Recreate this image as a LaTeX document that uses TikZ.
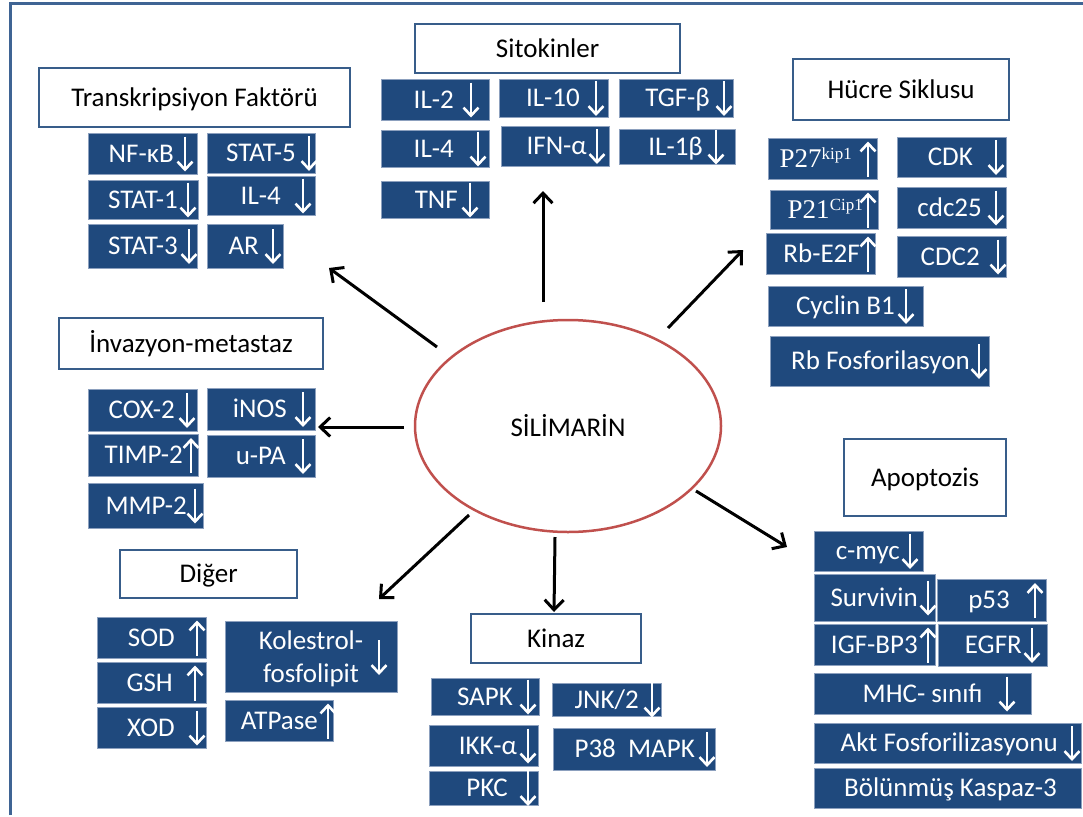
\documentclass[tikz,border=0pt]{standalone}
\usepackage{fontspec}
\setmainfont{Carlito}
\newfontfamily\tnr{Liberation Serif}
\usetikzlibrary{arrows.meta,shapes.geometric}
\definecolor{boxblue}{RGB}{31,73,125}
\definecolor{hdrblue}{RGB}{56,93,138}
\definecolor{frameblue}{RGB}{63,100,148}
\definecolor{ellred}{RGB}{192,80,77}
\definecolor{bedge}{RGB}{140,160,190}
\tikzset{
  hdr/.style={draw=hdrblue, line width=2.2pt, fill=white, rectangle, inner sep=0pt, anchor=north west, text height=18pt, text depth=0.5pt, font=\fontsize{27}{32}\selectfont},
  bbox/.style={fill=boxblue, draw=bedge, line width=0.7pt, rectangle, inner sep=0pt},
  btxt/.style={text=white, inner sep=0pt, font=\fontsize{27}{32}\selectfont},
  warr/.style={draw=white, line width=2.6pt, -{Straight Barb[length=8pt,width=15pt]}},
  conn/.style={draw=black, line width=3pt, -{Straight Barb[length=10pt,width=19pt]}},
  framel/.style={draw=frameblue, line width=3pt},
}
\newcommand\hd[6]{\node[hdr, minimum width={#4-#2}, minimum height={#5-#3}] (#1) at (#2,#3) {#6};}
\newcommand\bx[9]{%
  \node[bbox, minimum width={#4-#2}, minimum height={#5-#3}, anchor=north west] (#1) at (#2,#3) {};
  \node[btxt, anchor=base east] (#1-t) at (#7,{(#3+#5)/2+8.5}) {#6};
  \ifx u#9 \draw[warr] (#8,{(#3+#5)/2+18}) -- (#8,{(#3+#5)/2-17});\fi
  \ifx d#9 \draw[warr] (#8,{(#3+#5)/2-17}) -- (#8,{(#3+#5)/2+18});\fi
}
\newcommand\sups[1]{\raisebox{8pt}{\fontsize{17}{17}\selectfont #1}}
\begin{document}
\begin{tikzpicture}[x=1pt,y=-1pt]
\useasboundingbox (0,0) rectangle (1083,816);
\fill[white] (0,0) rectangle (1083,816);
\draw[framel] (10.5,815) -- (10.5,4) -- (1083,4);

% headers
\hd{tf}{38}{67}{349}{126}{Transkripsiyon Faktörü}
\hd{sito}{414}{23}{679}{72}{Sitokinler}
\hd{hucre}{792}{58}{1008}{119}{Hücre Siklusu}
\hd{inv}{58}{317}{322}{368}{İnvazyon-metastaz}
\hd{apo}{843}{438}{1005}{515}{Apoptozis}
\hd{diger}{119}{549}{296}{597}{Diğer}
\hd{kinaz}{470}{613}{640}{662}{Kinaz}

% Transkripsiyon
\bx{nfkb}{88}{133}{197}{174}{NF-κB}{174}{185}{d}
\bx{stat5}{207}{133}{315}{173}{STAT-5}{296}{309}{d}
\bx{stat1}{88}{180}{198}{219}{STAT-1}{178}{188}{d}
\bx{il4a}{207}{176}{315}{215}{IL-4}{281}{303}{d}
\bx{stat3}{88}{224}{197}{268}{STAT-3}{178}{189}{d}
\bx{ar}{207}{224}{283}{268}{AR}{259}{273}{d}

% Sitokinler
\bx{il2}{381}{79}{489}{120}{IL-2}{454}{471}{d}
\bx{il10}{499}{79}{608}{117}{IL-10}{580}{596}{d}
\bx{tgfb}{619}{79}{733}{117}{TGF-β}{710}{724}{d}
\bx{il4b}{381}{130}{489}{167}{IL-4}{454}{478}{d}
\bx{ifna}{501}{126}{609}{166}{IFN-α}{587}{597}{d}
\bx{il1b}{619}{129}{735}{164}{IL-1β}{703}{716}{d}
\bx{tnf}{381}{181}{489}{218}{TNF}{458}{470}{d}

% Hucre Siklusu
\bx{p27}{768}{138}{877}{179}{\tnr P27\sups{kip1}}{852}{868}{u}
\bx{cdk}{897}{137}{1006}{177}{CDK}{973}{996}{d}
\bx{p21}{770}{190}{878}{229}{\tnr P21\sups{Cip1}}{863}{868}{u}
\bx{cdc25}{897}{187}{1006}{228}{cdc25}{982}{996}{d}
\bx{rbe2f}{766}{233}{875}{274}{Rb-E2F}{860}{868}{u}
\bx{cdc2}{897}{236}{1006}{277}{CDC2}{980}{998}{d}
\bx{cycb1}{768}{286}{923}{326}{Cyclin B1}{895}{906}{d}
\bx{rbf}{770}{336}{989}{386}{Rb Fosforilasyon}{970}{979}{d}

% Invazyon
\bx{cox2}{88}{389}{197}{431}{COX-2}{175}{187}{d}
\bx{inos}{207}{388}{315}{430}{iNOS}{287}{303}{d}
\bx{timp2}{88}{434}{198}{476}{TIMP-2}{183}{191}{u}
\bx{upa}{207}{435}{315}{477}{u-PA}{286}{303}{d}
\bx{mmp2}{88}{483}{203}{528}{MMP-2}{187}{195}{d}

% Apoptozis
\bx{cmyc}{814}{531}{923}{571}{c-myc}{900}{910}{d}
\bx{surv}{814}{574}{935}{621}{Survivin}{918}{928}{d}
\bx{p53}{937}{579}{1046}{621}{p53}{1010}{1035}{u}
\bx{igf}{814}{624}{935}{665}{IGF-BP3}{918}{928}{u}
\bx{egfr}{938}{624}{1047}{666}{EGFR}{1022}{1032}{d}
\bx{mhc}{814}{673}{1031}{714}{MHC- sınıfı}{983}{1007}{d}
\bx{akt}{814}{723}{1081}{763}{Akt Fosforilizasyonu}{1058}{1072}{d}
\bx{kasp}{814}{768}{1081}{808}{Bölünmüş Kaspaz-3}{1057}{0}{n}

% Diger
\bx{sod}{97}{617}{206}{658}{SOD}{175}{197}{u}
\bx{gsh}{97}{662}{206}{703}{GSH}{173}{195}{u}
\bx{xod}{97}{707}{206}{748}{XOD}{175}{197}{d}
\node[bbox, minimum width=172pt, minimum height=71pt, anchor=north west] (kol) at (225,621) {};
\node[btxt, anchor=base] (kol-t1) at (311,649) {Kolestrol-};
\node[btxt, anchor=base] (kol-t2) at (311,682) {fosfolipit};
\draw[warr] (379,640) -- (379,675);
\bx{atp}{225}{700}{333}{741}{ATPase}{318}{328}{u}

% Kinaz
\bx{sapk}{431}{678}{539}{715}{SAPK}{513}{528}{d}
\bx{jnk}{552}{683}{661}{716}{JNK/2}{639}{652}{d}
\bx{ikka}{429}{725}{538}{766}{IKK-α}{517}{528}{d}
\bx{p38}{553}{728}{715}{770}{P38\ \ MAPK}{695}{707}{d}
\bx{pkc}{429}{771}{538}{805}{PKC}{508}{528}{d}

% center
\node[ellipse, draw=ellred, line width=2.5pt, fill=white, minimum width=306pt, minimum height=212pt, inner sep=0pt, font=\fontsize{27}{32}\selectfont] (sil) at (568,426) {SİLİMARİN};

% connectors
\coordinate (s1) at (543,302); \coordinate (e1) at (543,191);
\coordinate (s2) at (437,347); \coordinate (e2) at (329,268);
\coordinate (s3) at (668,328); \coordinate (e3) at (743,250);
\coordinate (s4) at (404,427); \coordinate (e4) at (318,427);
\coordinate (s5) at (469,515); \coordinate (e5) at (379,599);
\coordinate (s6) at (555,537); \coordinate (e6) at (554,612);
\coordinate (s7) at (696,491); \coordinate (e7) at (787,547);
\draw[conn] (s1) -- (e1);
\draw[conn] (s2) -- (e2);
\draw[conn] (s3) -- (e3);
\draw[conn] (s4) -- (e4);
\draw[conn] (s5) -- (e5);
\draw[conn] (s6) -- (e6);
\draw[conn] (s7) -- (e7);
\end{tikzpicture}
\end{document}
